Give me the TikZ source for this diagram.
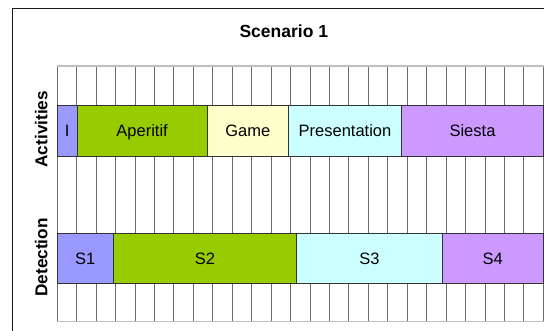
\documentclass[tikz,border=0pt]{standalone}
\usepackage{fontspec}
\setmainfont{Liberation Sans}
\definecolor{cI}{HTML}{9999FF}
\definecolor{cA}{HTML}{99CC00}
\definecolor{cG}{HTML}{FFFFCC}
\definecolor{cP}{HTML}{CCFFFF}
\definecolor{cS}{HTML}{CC99FF}
\definecolor{gridc}{HTML}{6A6A6A}
\definecolor{rulec}{HTML}{C0C0C0}
\definecolor{barline}{HTML}{333333}
\begin{document}
\begin{tikzpicture}[x=1pt,y=-1pt,
  bar/.style={draw=barline,line width=0.9pt,inner sep=0pt,outer sep=0pt,anchor=west,
    font=\fontsize{16.5}{18}\selectfont,text height=11.8pt,text depth=0pt},
  actbar/.style={bar,minimum height=50.3pt},
  detbar/.style={bar,minimum height=50.4pt},
  sidelabel/.style={rotate=90,anchor=base,font=\fontsize{17.2}{19}\selectfont\bfseries},
  gridline/.style={gridc,line width=0.9pt},
  hrule/.style={rulec,line width=1.8pt}]
\useasboundingbox (0,0) rectangle (544,330);
\begin{scope}
\clip (0,0) rectangle (544,330);
% outer frame
\draw[line width=1.6pt,black!90] (12.5,345) -- (12.5,8.5) -- (560,8.5);
% grid
\foreach \i in {0,...,25}{
  \draw[gridline] ({57.3+19.44*\i},65.7) -- ({57.3+19.44*\i},321.5);
}
\draw[hrule] (57.3,65.7) -- (543.8,65.7);
\draw[hrule] (57.3,321.5) -- (543.8,321.5);
% activity bars
\node[actbar,fill=cI,minimum width=19.7pt] (aI) at (57.3,130.85) {I};
\node[actbar,fill=cA,minimum width=130.3pt] (aA) at (77,130.85) {Aperitif};
\node[actbar,fill=cG,minimum width=81pt] (aG) at (207.3,130.85) {Game};
\node[actbar,fill=cP,minimum width=113.4pt] (aP) at (288.3,130.85) {Presentation};
\node[actbar,fill=cS,minimum width=141.6pt] (aS) at (401.7,130.85) {Siesta};
% detection bars
\node[detbar,fill=cI,minimum width=55.7pt] (d1) at (57.3,258.5) {S1};
\node[detbar,fill=cA,minimum width=183.7pt] (d2) at (113,258.5) {S2};
\node[detbar,fill=cP,minimum width=145.3pt] (d3) at (296.7,258.5) {S3};
\node[detbar,fill=cS,minimum width=101.3pt] (d4) at (442,258.5) {S4};
\end{scope}
% labels
\node[anchor=base,font=\fontsize{17.5}{19}\selectfont\bfseries] (title) at (283.8,37) {Scenario 1};
\node[sidelabel] (lact) at (47.3,129.2) {Activities};
\node[sidelabel] (ldet) at (47.3,257.5) {Detection};
\end{tikzpicture}
\end{document}
